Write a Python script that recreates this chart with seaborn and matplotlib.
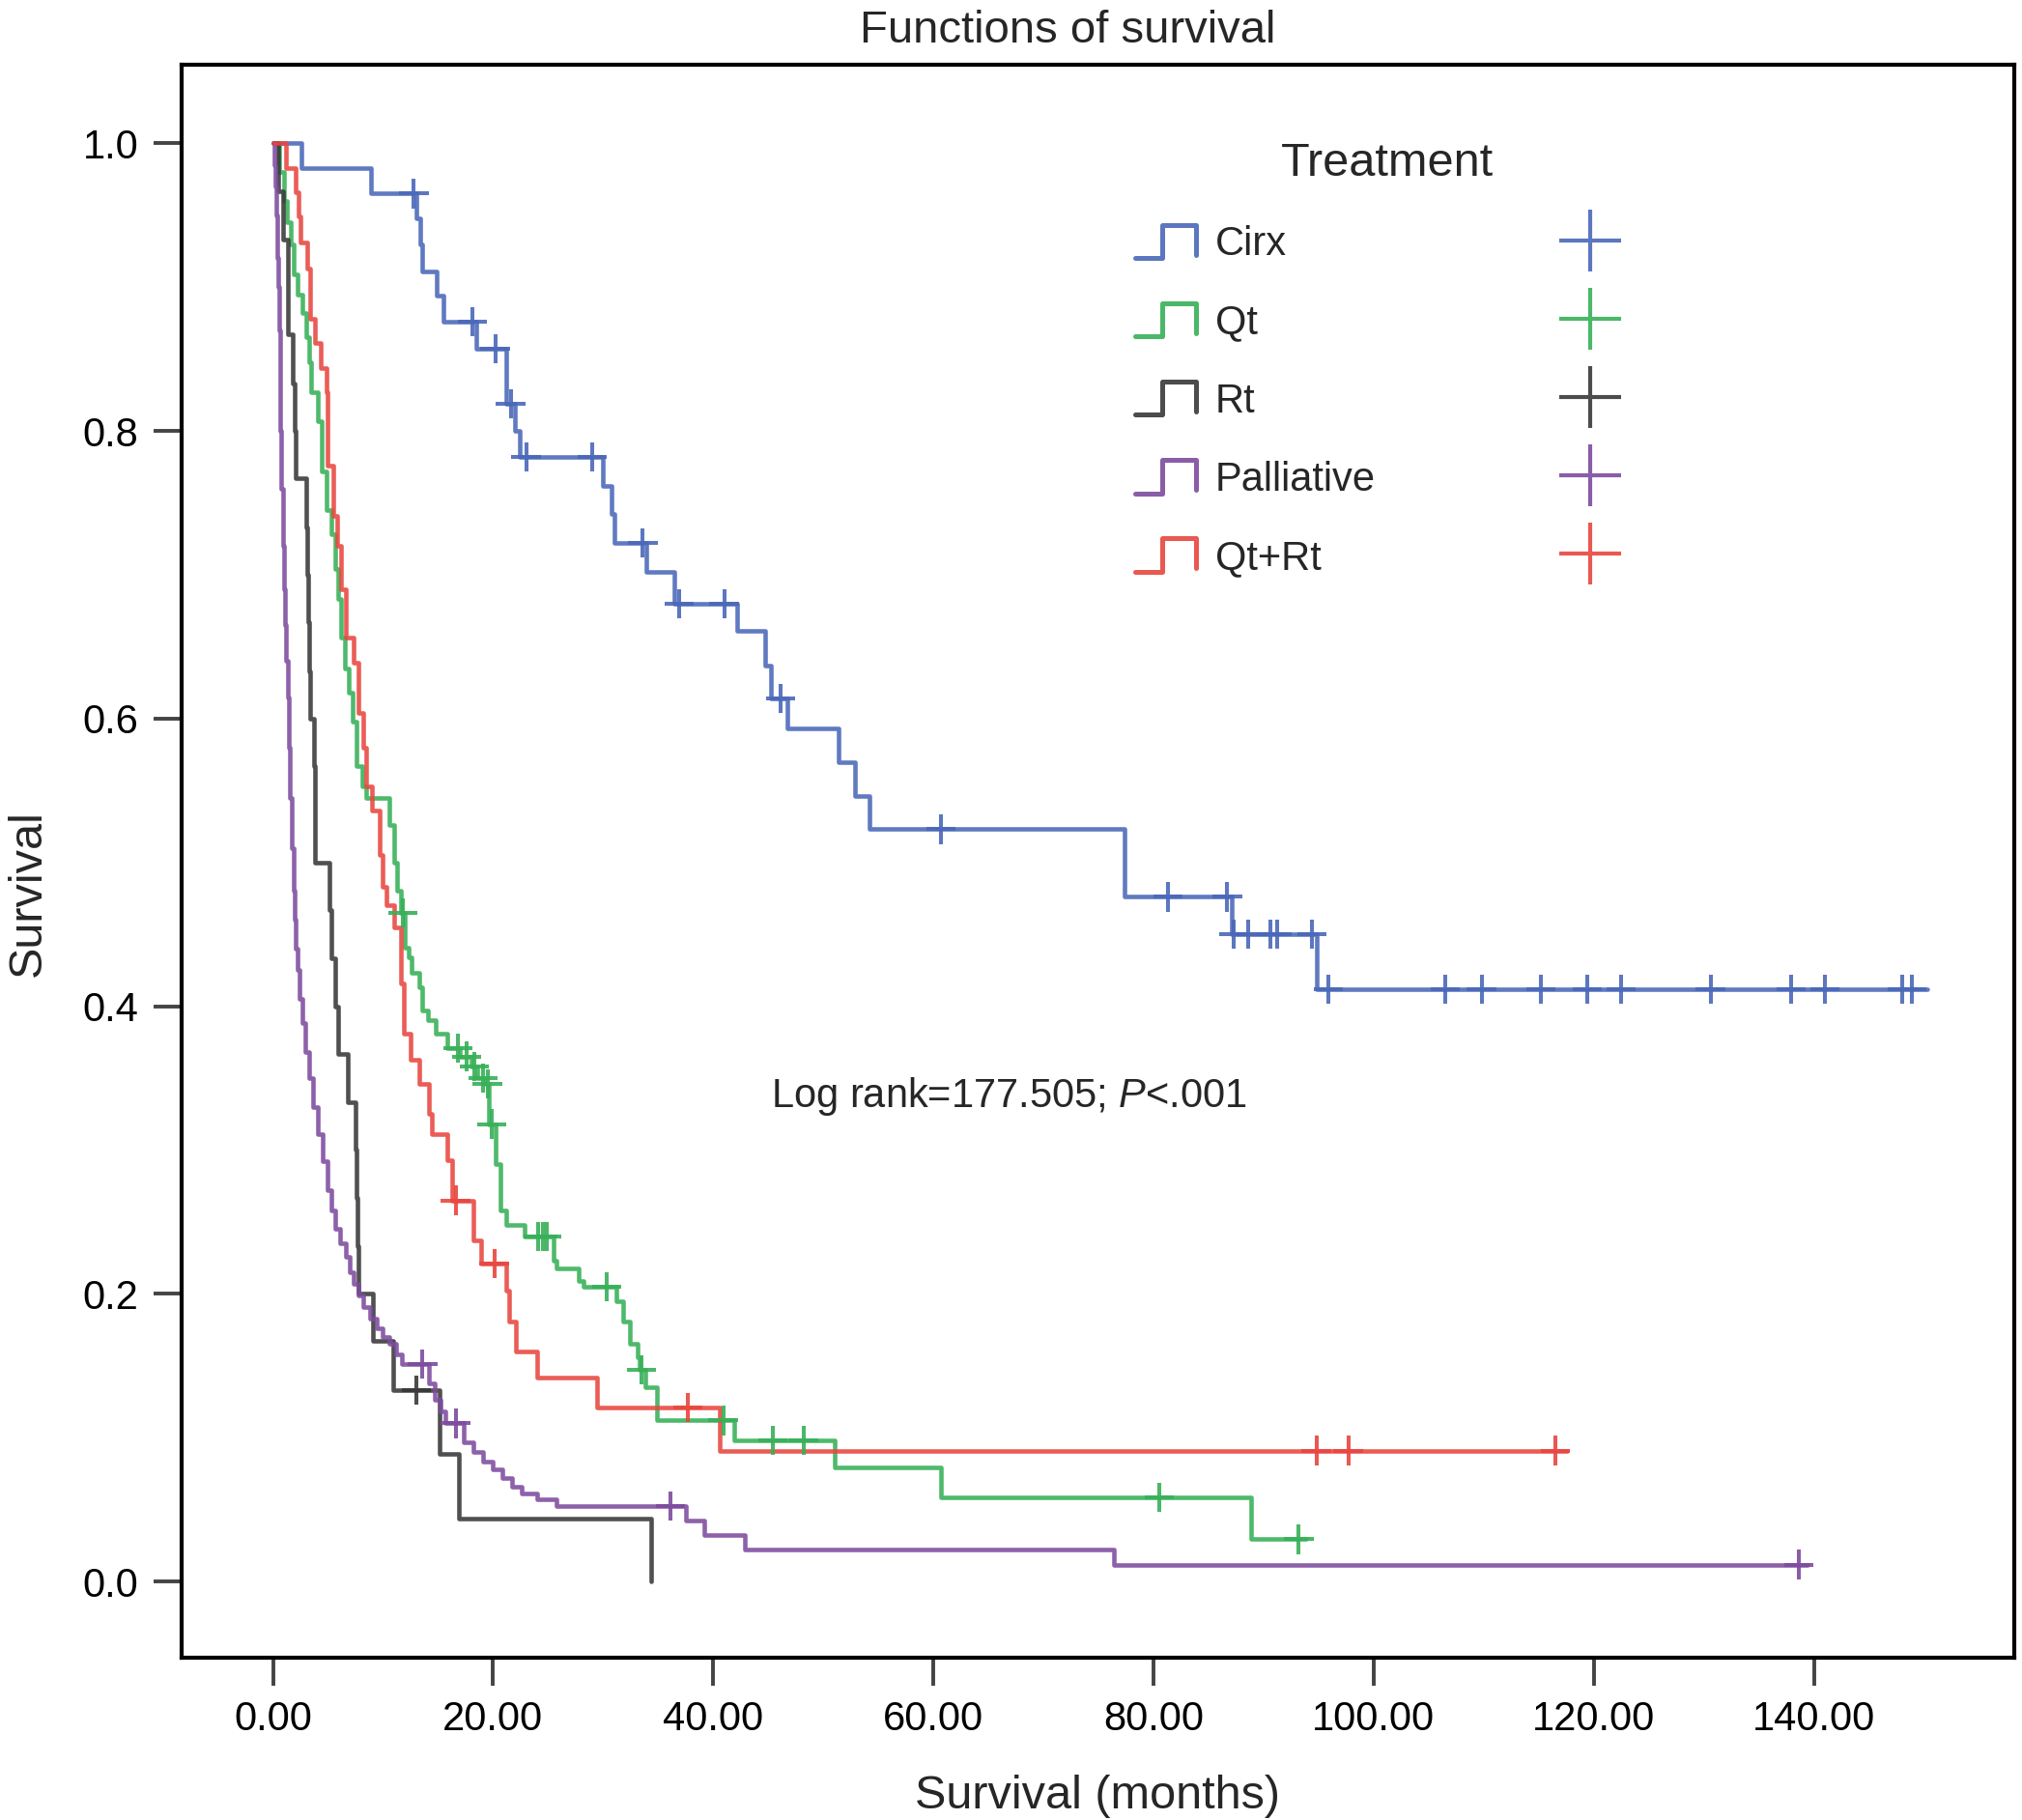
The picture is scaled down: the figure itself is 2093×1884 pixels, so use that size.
import numpy as np
import pandas as pd
import matplotlib
matplotlib.use("Agg")
import matplotlib.pyplot as plt
import seaborn as sns
from matplotlib.lines import Line2D
from matplotlib.legend_handler import HandlerBase
from matplotlib.ticker import FormatStrFormatter

# ---- data (months, survival after each step) ----
groups = ["Cirx", "Qt", "Rt", "Palliative", "Qt+Rt"]
colors = ["#4a68b9", "#37b057", "#383838", "#7d4b9f", "#e8463f"]

cirx_time = [0, 2.6, 8.9, 13.0, 13.4, 13.6, 14.9, 15.5, 18.5, 21.2, 22.0, 22.4,
             30.0, 30.8, 31.0, 33.9, 36.5, 42.2, 44.7, 45.2, 46.7, 51.4, 52.9,
             54.2, 77.4, 87.1, 94.8]
cirx_surv = [1.0, 0.983, 0.965, 0.948, 0.930, 0.911, 0.894, 0.876, 0.857, 0.819,
             0.800, 0.782, 0.762, 0.742, 0.722, 0.702, 0.680, 0.661, 0.637, 0.614,
             0.593, 0.570, 0.546, 0.523, 0.476, 0.450, 0.412]
cirx_cens = [12.8, 18.1, 20.2, 21.6, 23.0, 29.0, 33.6, 36.9, 41.0, 46.1, 60.7,
             81.3, 86.7, 87.3, 88.6, 90.6, 91.2, 94.4, 95.9, 106.5, 109.8, 115.2,
             119.4, 122.5, 130.6, 137.9, 141.0, 148.0, 148.9]
cirx_end = 150.3

qt_time = [0, 0.6, 1.0, 1.3, 1.64, 1.9, 2.2, 2.7, 3.0, 3.25, 3.5, 4.1, 4.4, 4.86,
           5.3, 5.7, 5.9, 6.17, 6.5, 6.9, 7.2, 7.6, 8.1, 8.5, 10.6, 11.0, 11.3,
           11.6, 12.0, 12.3, 12.6, 13.3, 13.6, 14.1, 14.8, 15.8, 17.0, 18.0, 18.6,
           19.3, 19.6, 20.2, 20.7, 21.2, 22.85, 25.5, 25.8, 27.8, 28.2, 31.2, 31.8,
           32.4, 33.1, 33.3, 33.8, 34.9, 41.9, 51.0, 60.7, 88.9]
qt_surv = [1.0, 0.98, 0.96, 0.945, 0.930, 0.909, 0.895, 0.882, 0.865, 0.848,
           0.827, 0.807, 0.772, 0.745, 0.728, 0.704, 0.683, 0.656, 0.635, 0.618,
           0.598, 0.567, 0.553, 0.545, 0.526, 0.500, 0.480, 0.465, 0.441, 0.434,
           0.423, 0.413, 0.397, 0.390, 0.381, 0.371, 0.365, 0.358, 0.350, 0.346,
           0.318, 0.290, 0.258, 0.248, 0.240, 0.223, 0.218, 0.209, 0.205, 0.195,
           0.181, 0.165, 0.156, 0.147, 0.135, 0.112, 0.098, 0.079, 0.0585, 0.0293]
qt_cens = [11.8, 16.8, 17.6, 18.3, 19.1, 19.5, 19.9, 24.1, 24.5, 24.9, 30.3,
           33.5, 40.9, 45.4, 48.2, 80.5, 93.2]
qt_end = 93.9

rt_time = [0, 0.5, 0.9, 1.35, 1.4, 1.8, 1.95, 2.1, 3.0, 3.1, 3.2, 3.3, 3.4, 3.7,
           3.8, 3.85, 5.15, 5.3, 5.7, 5.9, 6.8, 7.5, 7.6, 7.7, 7.8, 9.1, 10.9,
           15.1, 16.9, 34.4]
rt_surv = [1.0, 0.967, 0.933, 0.900, 0.867, 0.833, 0.800, 0.767, 0.733, 0.700,
           0.667, 0.633, 0.600, 0.567, 0.533, 0.500, 0.467, 0.433, 0.400, 0.367,
           0.333, 0.300, 0.267, 0.233, 0.200, 0.167, 0.133, 0.089, 0.044, 0.0]
rt_cens = [13.05]
rt_end = 34.4

pal_time = [0, 0.1, 0.2, 0.3, 0.4, 0.47, 0.55, 0.62, 0.7, 0.78, 0.88, 1.0, 1.1,
            1.2, 1.35, 1.45, 1.55, 1.7, 1.85, 1.95, 2.1, 2.25, 2.45, 2.65, 2.95,
            3.25, 3.6, 4.1, 4.5, 5.0, 5.35, 5.7, 6.1, 6.6, 7.0, 7.35, 7.8, 8.2,
            8.8, 9.4, 10.0, 10.6, 11.2, 11.7, 14.2, 14.7, 15.2, 15.7, 17.3, 18.2,
            19.1, 20.0, 20.8, 21.7, 22.6, 24.0, 25.8, 37.5, 39.2, 42.9, 76.4]
pal_surv = [1.0, 0.985, 0.97, 0.95, 0.92, 0.90, 0.87, 0.84, 0.80, 0.76, 0.72,
            0.69, 0.665, 0.64, 0.615, 0.58, 0.545, 0.51, 0.48, 0.46, 0.44, 0.425,
            0.405, 0.388, 0.368, 0.350, 0.330, 0.311, 0.292, 0.272, 0.258, 0.245,
            0.235, 0.226, 0.215, 0.207, 0.199, 0.191, 0.183, 0.176, 0.170, 0.165,
            0.158, 0.151, 0.138, 0.126, 0.118, 0.110, 0.097, 0.090, 0.083, 0.078,
            0.072, 0.066, 0.061, 0.057, 0.0526, 0.0423, 0.0322, 0.0222, 0.0117]
pal_cens = [13.6, 16.6, 36.1, 138.6]
pal_end = 139.4

qtrt_time = [0, 1.2, 2.1, 2.3, 2.5, 3.1, 3.4, 3.8, 4.3, 4.86, 5.0, 5.44, 5.8,
             6.2, 6.6, 7.35, 7.8, 8.2, 8.5, 8.96, 9.7, 10.0, 10.3, 11.0, 11.6,
             11.9, 12.5, 13.3, 14.2, 14.4, 15.8, 16.3, 18.2, 18.9, 21.2, 21.5,
             22.1, 24.0, 29.4, 40.6]
qtrt_surv = [1.0, 0.983, 0.966, 0.949, 0.931, 0.913, 0.878, 0.861, 0.844, 0.827,
             0.776, 0.741, 0.720, 0.690, 0.656, 0.639, 0.604, 0.580, 0.553, 0.536,
             0.505, 0.483, 0.470, 0.455, 0.416, 0.381, 0.363, 0.346, 0.325, 0.311,
             0.293, 0.265, 0.237, 0.221, 0.202, 0.181, 0.160, 0.142, 0.121, 0.091]
qtrt_cens = [16.6, 20.1, 37.7, 94.8, 97.7, 116.5]
qtrt_end = 117.6

x_ticks = [0, 20, 40, 60, 80, 100, 120, 140]
y_ticks = [0.0, 0.2, 0.4, 0.6, 0.8, 1.0]
stat_text = "Log rank=177.505; $\\mathit{P}$<.001"

curves = {
    "Cirx": (cirx_time, cirx_surv, cirx_cens, cirx_end),
    "Qt": (qt_time, qt_surv, qt_cens, qt_end),
    "Rt": (rt_time, rt_surv, rt_cens, rt_end),
    "Palliative": (pal_time, pal_surv, pal_cens, pal_end),
    "Qt+Rt": (qtrt_time, qtrt_surv, qtrt_cens, qtrt_end),
}

# long tables for seaborn
step_rows, cens_rows = [], []
for g, (t, s, c, end) in curves.items():
    t = np.asarray(t, float)
    s = np.asarray(s, float)
    for ti, si in zip(np.append(t, end), np.append(s, s[-1])):
        step_rows.append((g, ti, si))
    for ci in c:
        idx = np.searchsorted(t, ci, side="right") - 1
        cens_rows.append((g, ci, s[idx]))
steps = pd.DataFrame(step_rows, columns=["Treatment", "time", "surv"])
cens = pd.DataFrame(cens_rows, columns=["Treatment", "time", "surv"])

sns.set_theme(style="white")
plt.rcParams["font.family"] = ["Liberation Sans", "DejaVu Sans"]
plt.rcParams["mathtext.fontset"] = "custom"
plt.rcParams["mathtext.rm"] = "Liberation Sans"
plt.rcParams["mathtext.it"] = "Liberation Sans:italic"

palette = dict(zip(groups, colors))

fig = plt.figure(figsize=(20.93, 18.84), dpi=100)
ax = fig.add_axes([0.0898, 0.0892, 0.9064, 0.8755])

sns.lineplot(data=steps, x="time", y="surv", hue="Treatment", hue_order=groups,
             palette=palette, estimator=None, sort=False, drawstyle="steps-post",
             linewidth=3.3, alpha=0.88, legend=False, ax=ax)
sns.scatterplot(data=cens, x="time", y="surv", hue="Treatment", hue_order=groups,
                palette=palette, marker="+", s=480, linewidth=2.9, alpha=0.9,
                legend=False, ax=ax, zorder=3)

ax.set_xlim(-8.3, 158.2)
ax.set_ylim(-0.053, 1.055)
ax.set_xticks(x_ticks)
ax.set_yticks(y_ticks)
ax.xaxis.set_major_formatter(FormatStrFormatter("%.2f"))
ax.yaxis.set_major_formatter(FormatStrFormatter("%.1f"))
ax.tick_params(axis="both", direction="out", length=21, width=2.8,
               color="#444444", labelsize=30, pad=11, labelcolor="black")
ax.tick_params(axis="both", which="both", bottom=True, left=True)
for sp in ax.spines.values():
    sp.set_visible(True)
    sp.set_linewidth(3)
    sp.set_color("black")

ax.set_xlabel("Survival (months)", fontsize=35, labelpad=26)
ax.set_ylabel("Survival", fontsize=35)
ax.yaxis.set_label_coords(-0.072, 0.48)
fig.text(0.528, 0.983, "Functions of survival", fontsize=34, ha="center", va="center")

ax.text(45.2, 0.337, stat_text, fontsize=30, ha="left", va="center")


# legend: step-shaped glyphs plus a column of censor marks
class StepHandler(HandlerBase):
    def create_artists(self, legend, orig_handle, xdescent, ydescent, width,
                       height, fontsize, trans):
        xs = np.array([0.0, 0.45, 0.45, 1.0, 1.0]) * width - xdescent
        ys = np.array([0.0, 0.0, 1.0, 1.0, 0.1]) * height - ydescent
        ln = Line2D(xs, ys, color=orig_handle.get_color(),
                    linewidth=orig_handle.get_linewidth(),
                    alpha=0.9, transform=trans)
        return [ln]


step_handles = [Line2D([], [], color=palette[g], linewidth=3.6) for g in groups]
plus_handles = [Line2D([], [], color=palette[g], linestyle="none", marker="+",
                       markersize=46, markeredgewidth=3.0, alpha=0.9)
                for g in groups]
handler_map = {h: StepHandler() for h in step_handles}
ax.legend(step_handles + plus_handles, groups + [""] * len(groups),
          handler_map=handler_map, ncol=2, title="Treatment",
          title_fontsize=35, fontsize=30, frameon=False,
          loc="upper left", bbox_to_anchor=(0.5203, 0.951),
          borderpad=0, borderaxespad=0, handlelength=1.5, handleheight=0.9,
          handletextpad=0.48, labelspacing=0.97, columnspacing=4.6)

fig.savefig("out.png", dpi=100, facecolor="white")
